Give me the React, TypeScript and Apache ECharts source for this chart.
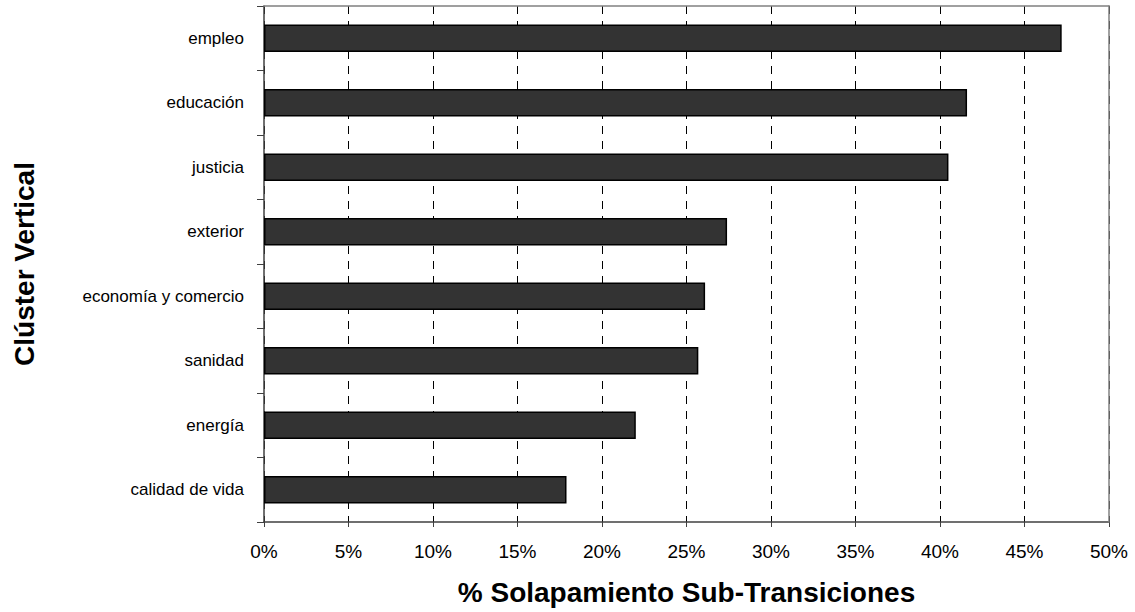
import React, { useEffect, useRef } from "react";
import * as echarts from "echarts";

const categories = [
  "empleo",
  "educación",
  "justicia",
  "exterior",
  "economía y comercio",
  "sanidad",
  "energía",
  "calidad de vida",
];
const overlapValues = [0.472, 0.416, 0.405, 0.274, 0.261, 0.257, 0.22, 0.179];
const xTicks = { min: 0, max: 0.5, interval: 0.05 };
const xTitle = "% Solapamiento Sub-Transiciones";
const yTitle = "Clúster Vertical";

const FONT = "'Liberation Sans', Arial, sans-serif";

export default function App() {
  const ref = useRef<HTMLDivElement>(null);
  useEffect(() => {
    if (!ref.current) return;
    const chart = echarts.init(ref.current, undefined, { renderer: "svg" });
    chart.setOption({
      animation: false,
      backgroundColor: "#ffffff",
      textStyle: { fontFamily: FONT },
      grid: { left: 264, right: 26, top: 6, bottom: 90, containLabel: false },
      xAxis: [
        {
          type: "value",
          min: xTicks.min,
          max: xTicks.max,
          interval: xTicks.interval,
          name: xTitle,
          nameLocation: "middle",
          nameGap: 56,
          nameTextStyle: { fontFamily: FONT, fontSize: 28, fontWeight: "bold", color: "#000" },
          axisLine: { show: true, lineStyle: { color: "#404040", width: 1.5 } },
          axisTick: { show: true, length: 5, lineStyle: { color: "#404040" } },
          axisLabel: {
            fontFamily: FONT,
            fontSize: 19,
            color: "#000",
            margin: 20,
            formatter: (v: number) => Math.round(v * 100) + "%",
          },
          splitLine: { show: true, lineStyle: { color: "#000", width: 1, type: [8, 7] } },
        },
        {
          type: "value",
          position: "top",
          min: xTicks.min,
          max: xTicks.max,
          interval: xTicks.interval,
          z: 5,
          axisLine: { show: true, onZero: false, lineStyle: { color: "#808080", width: 1.5 } },
          axisTick: { show: false },
          axisLabel: { show: false },
          splitLine: { show: false },
        },
      ],
      yAxis: [
        {
          type: "category",
          data: categories,
          inverse: true,
          name: yTitle,
          nameLocation: "middle",
          nameGap: 226,
          nameRotate: 90,
          nameTextStyle: { fontFamily: FONT, fontSize: 28, fontWeight: "bold", color: "#000" },
          axisLine: { show: true, lineStyle: { color: "#404040", width: 1.5 } },
          axisTick: { show: true, length: 7, lineStyle: { color: "#404040" } },
          axisLabel: { fontFamily: FONT, fontSize: 17, color: "#000", margin: 20 },
          splitLine: { show: false },
        },
        {
          type: "category",
          data: categories,
          inverse: true,
          position: "right",
          z: 5,
          axisLine: { show: true, onZero: false, lineStyle: { color: "#808080", width: 1.5 } },
          axisTick: { show: false },
          axisLabel: { show: false },
          splitLine: { show: false },
        },
      ],
      series: [
        {
          type: "bar",
          xAxisIndex: 0,
          yAxisIndex: 0,
          data: overlapValues,
          barCategoryGap: "57%",
          itemStyle: { color: "#333333", borderColor: "#000000", borderWidth: 1.5 },
        },
      ],
    });
    return () => chart.dispose();
  }, []);
  return (
    <div
      ref={ref}
      style={{ position: "fixed", left: 0, top: 0, width: 1135, height: 612, background: "#fff" }}
    />
  );
}
